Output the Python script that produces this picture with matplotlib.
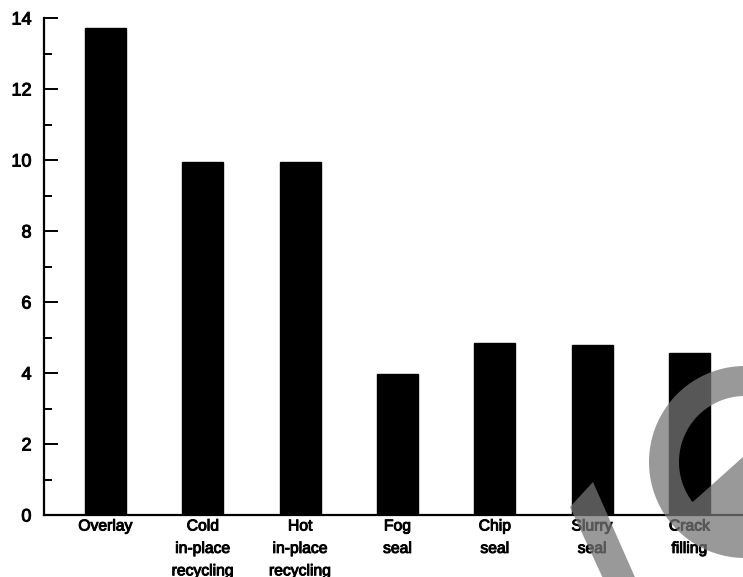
import numpy as np
import matplotlib
matplotlib.use('Agg')
import matplotlib.pyplot as plt
import matplotlib.patheffects as pe
from matplotlib.patches import Polygon, PathPatch
from matplotlib.path import Path
from matplotlib.transforms import IdentityTransform

plt.rcParams['font.family'] = ['Liberation Sans', 'DejaVu Sans']

categories = ['Overlay', 'Cold\nin-place\nrecycling', 'Hot\nin-place\nrecycling',
              'Fog\nseal', 'Chip\nseal', 'Slurry\nseal', 'Crack\nfilling']
values = [13.72, 9.95, 9.95, 3.97, 4.85, 4.79, 4.56]
yticks = [0, 2, 4, 6, 8, 10, 12, 14]

W, H = 743, 577
fig = plt.figure(figsize=(W / 100, H / 100), dpi=100)
ax = fig.add_axes([44 / W, (H - 515) / H, 1 - 44 / W, (515 - 18) / H])

x = np.arange(len(categories))
ax.bar(x, values, width=0.42, color='black', edgecolor='black')

ax.set_xlim(-0.632, 6.55)
ax.set_ylim(0, 14)
ax.set_yticks(yticks)
ax.set_yticks(np.arange(1, 14, 2), minor=True)
ax.set_xticks(x)
ax.set_xticklabels(categories, fontsize=11.3, linespacing=1.62, va='top')

ax.spines['top'].set_visible(False)
ax.spines['right'].set_visible(False)
ax.spines['left'].set_linewidth(1.6)
ax.spines['bottom'].set_linewidth(1.6)
ax.tick_params(axis='y', which='major', direction='in', length=10, width=1.4,
               labelsize=13, pad=9)
ax.tick_params(axis='y', which='minor', direction='in', length=5.5, width=1.4)
ax.tick_params(axis='x', length=0, pad=2.5)

heavy = [pe.withStroke(linewidth=0.7, foreground='black')]
for lbl in ax.get_xticklabels() + ax.get_yticklabels():
    lbl.set_path_effects(heavy)

# grey watermark in the lower right corner (pixel coordinates, y up)
wm = dict(facecolor='#767676', edgecolor='none', alpha=0.745, zorder=10)
ident = IdentityTransform()
cx, cy = 745, H - 462
r_out, r_in = 96, 66

t = np.linspace(0, 2 * np.pi, 200)
outer = np.column_stack([cx + r_out * np.cos(t), cy + r_out * np.sin(t)])

# hole: inner disk above/left of the check line running from A up-right
A = np.array([695.0, H - 500.0])
d = np.array([48.0, 43.0])
d /= np.linalg.norm(d)
p = A - [cx, cy]
b = 2 * p.dot(d)
c = p.dot(p) - r_in ** 2
t_exit = (-b + np.sqrt(b * b - 4 * c)) / 2
E = A + t_exit * d
a_top = np.arctan2(E[1] - cy, E[0] - cx)
a_bot = np.arctan2(A[1] - cy, A[0] - cx)
if a_bot < a_top:
    a_bot += 2 * np.pi
arc = np.linspace(a_top, a_bot, 100)
hole = np.column_stack([cx + r_in * np.cos(arc), cy + r_in * np.sin(arc)])
hole = np.vstack([hole, A])[::-1]
verts = np.vstack([outer, outer[:1], hole, hole[:1]])
codes = ([Path.MOVETO] + [Path.LINETO] * (len(outer) - 1) + [Path.CLOSEPOLY]
         + [Path.MOVETO] + [Path.LINETO] * (len(hole) - 1) + [Path.CLOSEPOLY])
fig.add_artist(PathPatch(Path(verts, codes), transform=ident, **wm))

stroke = [(570, H - 507), (593, H - 482), (645, H - 600), (613, H - 600)]
fig.add_artist(Polygon(stroke, closed=True, transform=ident, **wm))

fig.savefig('out.png', dpi=100)
